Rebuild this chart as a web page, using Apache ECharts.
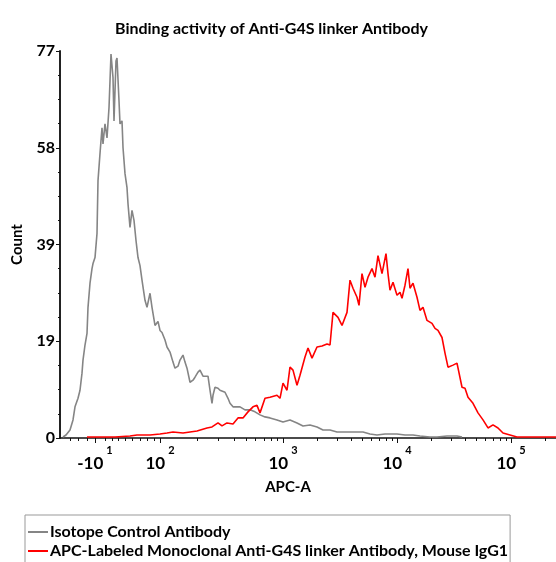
<!DOCTYPE html>
<html>
<head>
<meta charset="utf-8">
<script src="https://cdn.jsdelivr.net/npm/echarts@6/dist/echarts.min.js"></script>
<style>
html, body { margin: 0; padding: 0; background: #fff; }
#main { width: 556px; height: 562px; }
</style>
</head>
<body>
<div id="main"></div>
<script>
// display channel (0 = left edge of plot) and event count
var isoChan = [1,4,8,11,13,16,18,20,21,23,25,26,28,30,31,33,35,36,38,40,41,43,45,47,49,51,52,54,55,57,58,60,61,63,65,66,68,70,72,74,76,78,80,83,85,88,90,93,96,98,100,103,105,108,111,113,116,118,121,123,125,128,131,133,136,138,141,143,146,148,150,151,153,156,158,163,166,168,171,173,178,183,188,193,198,203,208,215,221,228,235,241,248,255,261,268,275,285,295,301,308,315,323,335,343,351,358,368,375,385,395,400];
var isoCount = [0.2,0.6,1.6,3.6,6.2,7.9,9.5,12.9,15.5,18.5,20.8,26.0,30.8,33.7,34.7,35.9,40.7,51.2,56.6,61.7,58.5,62.5,59.7,65.7,76.4,71.7,63.1,75.0,75.6,67.1,62.5,63.1,57.8,52.6,49.8,46.6,41.9,45.3,43.3,39.3,35.9,34.3,31.4,27.4,26.0,28.8,26.0,22.4,23.2,21.4,21.0,19.5,18.1,17.1,15.1,13.9,14.3,15.5,16.5,15.1,13.9,11.1,11.5,12.1,13.1,13.5,12.3,12.1,12.3,9.5,6.9,8.5,10.1,9.9,9.5,9.1,7.9,6.9,6.2,6.0,6.2,5.6,5.6,5.2,4.6,4.2,4.0,3.6,3.2,3.6,3.0,2.4,2.6,2.2,1.6,1.6,1.2,1.2,1.2,1.2,0.8,0.6,0.8,0.8,0.6,0.6,0.4,0.2,0.2,0.4,0.4,0.2];

var apcChan = [25,38,53,68,75,88,98,105,111,121,128,135,145,150,156,160,165,171,176,181,186,191,195,198,203,208,215,218,221,225,228,231,235,238,243,246,250,255,260,265,268,271,276,280,285,288,291,295,297,300,303,306,310,313,316,320,324,326,328,331,335,338,340,343,346,348,351,355,358,361,365,370,373,376,380,383,386,391,395,400,403,406,411,416,421,426,431,436,441,448,455,468,481,494];
var apcCount = [0.2,0.2,0.2,0.4,0.6,0.6,0.8,1.0,1.2,1.0,1.2,1.4,2.0,2.2,3.0,2.4,3.0,2.8,4.0,4.0,5.2,6.2,6.5,5.0,7.9,8.1,8.5,7.9,10.9,9.5,14.1,13.5,10.5,12.5,16.1,17.9,15.9,18.1,18.3,18.7,18.5,25.0,24.0,22.4,25.0,31.4,29.8,28.0,26.4,32.7,30.0,32.0,33.7,32.0,36.3,32.7,36.7,32.7,29.4,31.0,28.4,29.0,27.8,30.4,33.7,29.8,30.8,28.0,25.4,26.0,23.4,22.8,21.8,21.4,20.0,16.9,14.1,14.5,14.9,10.1,9.9,8.1,6.9,5.0,3.6,2.0,2.6,2.0,1.0,0.6,0.2,0.2,0.2,0.2];

// x axis: logicle-style decades, tick positions in display channels
var majorTicks = [35, 100, 223, 337, 451];
var majorBase = ['-10', '10', '10', '10', '10'];
var majorExp = ['1', '2', '3', '4', '5'];
var lowTicks = [10, 18, 27, 45, 52, 58, 65, 72, 80, 87, 94];
var decadeStart = [100, 223, 337, 451];
var decadeWidth = [123, 114, 114, 114];

var yMax = 77;
var yStep = 19.25;

var legendNames = ['Isotope Control Antibody', 'APC-Labeled Monoclonal Anti-G4S linker Antibody, Mouse IgG1'];

var FONT = 'Lato';
var chanMax = 496;

var minorTicks = lowTicks.slice();
decadeStart.forEach(function (s, i) {
	for (var m = 2; m <= 9; m++) {
		var p = s + Math.log10(m) * decadeWidth[i];
		if (p <= chanMax) minorTicks.push(Math.round(p * 10) / 10);
	}
});

function pairs(xs, ys) {
	// channels were read relative to a plot starting 2px further right
	return xs.map(function (x, i) { return [x + 2, ys[i]]; });
}

var chart = echarts.init(document.getElementById('main'));
chart.setOption({
	animation: false,
	backgroundColor: '#fff',
	title: {
		text: 'Binding activity of Anti-G4S linker Antibody',
		left: 110,
		top: 16,
		textStyle: { fontFamily: FONT, fontSize: 16, fontWeight: 'bold', color: '#000' }
	},
	legend: {
		orient: 'vertical',
		left: 25,
		top: 515,
		height: 120,
		padding: [9, 2, 9, 3],
		itemGap: 3,
		itemWidth: 20,
		itemHeight: 2,
		icon: 'rect',
		borderColor: '#999',
		borderWidth: 1,
		data: legendNames,
		textStyle: { fontFamily: FONT, fontSize: 16, fontWeight: 'bold', color: '#000', padding: [0, 0, 0, -3] }
	},
	grid: { left: 60, right: 0, top: 51, bottom: 124 },
	xAxis: [{
		type: 'value',
		min: 0,
		max: chanMax,
		name: 'APC-A',
		nameLocation: 'middle',
		nameGap: 42,
		nameTextStyle: { fontFamily: FONT, fontSize: 15, fontWeight: 'bold', color: '#000', padding: [0, 40, 0, 0] },
		axisLine: { lineStyle: { color: '#111', width: 1.5 } },
		axisTick: { show: true, length: 5, customValues: majorTicks, lineStyle: { color: '#111' } },
		axisLabel: {
			customValues: majorTicks,
			margin: 7,
			formatter: function (v) {
				var i = majorTicks.indexOf(v);
				return i < 0 ? '' : '{b|' + majorBase[i] + '}{s|' + majorExp[i] + '}';
			},
			rich: {
				b: { fontFamily: FONT, fontSize: 17, fontWeight: 'bold', color: '#000', lineHeight: 27, verticalAlign: 'bottom' },
				s: { fontFamily: FONT, fontSize: 11, fontWeight: 'bold', color: '#000', lineHeight: 27, verticalAlign: 'top', padding: [0, 0, 0, 3] }
			}
		},
		splitLine: { show: false }
	}, {
		type: 'value',
		min: 0,
		max: chanMax,
		position: 'bottom',
		axisLine: { show: false },
		axisTick: { show: true, length: 3, customValues: minorTicks, lineStyle: { color: '#111' } },
		axisLabel: { show: false },
		splitLine: { show: false }
	}],
	yAxis: {
		type: 'value',
		min: 0,
		max: yMax,
		interval: yStep,
		name: 'Count',
		nameLocation: 'middle',
		nameGap: 35,
		nameRotate: 90,
		nameTextStyle: { fontFamily: FONT, fontSize: 15, fontWeight: 'bold', color: '#000' },
		axisLine: { show: true, lineStyle: { color: '#222', width: 2 } },
		axisTick: { show: true, length: 4, lineStyle: { color: '#111' } },
		minorTick: { show: true, splitNumber: 4, length: 2, lineStyle: { color: '#111' } },
		axisLabel: {
			margin: 5,
			fontFamily: FONT, fontSize: 16, fontWeight: 'bold', color: '#000',
			formatter: function (v) { return Math.round(v); }
		},
		splitLine: { show: false }
	},
	series: [{
		name: legendNames[0],
		type: 'line',
		symbol: 'none',
		data: pairs(isoChan, isoCount),
		itemStyle: { color: '#858585' },
		lineStyle: { color: '#858585', width: 1.6 }
	}, {
		name: legendNames[1],
		type: 'line',
		symbol: 'none',
		data: pairs(apcChan, apcCount),
		itemStyle: { color: '#ff0000' },
		lineStyle: { color: '#ff0000', width: 1.6 }
	}]
});
</script>
</body>
</html>
